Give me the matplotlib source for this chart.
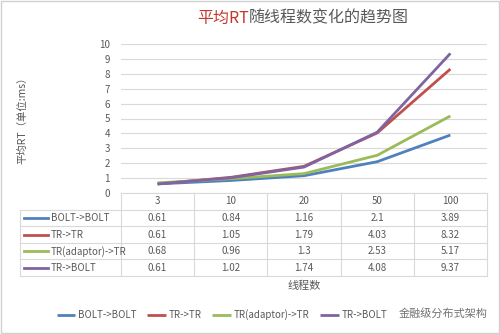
import matplotlib.pyplot as plt
from matplotlib.patches import Rectangle

plt.rcParams['font.family'] = ['Noto Sans CJK SC', 'DejaVu Sans']

threads = ['3', '10', '20', '50', '100']
series = ['BOLT->BOLT', 'TR->TR', 'TR(adaptor)->TR', 'TR->BOLT']
bolt_bolt = [0.61, 0.84, 1.16, 2.1, 3.89]
tr_tr = [0.61, 1.05, 1.79, 4.03, 8.32]
tr_adaptor_tr = [0.68, 0.96, 1.3, 2.53, 5.17]
tr_bolt = [0.61, 1.02, 1.74, 4.08, 9.37]
values = [bolt_bolt, tr_tr, tr_adaptor_tr, tr_bolt]
cell_text = [['0.61', '0.84', '1.16', '2.1', '3.89'],
             ['0.61', '1.05', '1.79', '4.03', '8.32'],
             ['0.68', '0.96', '1.3', '2.53', '5.17'],
             ['0.61', '1.02', '1.74', '4.08', '9.37']]

colors = ['#4F81BD', '#C0504D', '#9BBB59', '#8064A2']
txt = '#595959'
grid = '#D9D9D9'

W, H = 500, 334
fig = plt.figure(figsize=(5, 3.34), dpi=100)
fig.patches.append(Rectangle((0.002, 0.003), 0.996, 0.994, transform=fig.transFigure,
                             fill=False, edgecolor='#D0D0D0', lw=1))

# plot area
x0, x1 = 121, 487
ytop, ybot = 44, 193
ax = fig.add_axes([x0 / W, (H - ybot) / H, (x1 - x0) / W, (ybot - ytop) / H])
xs = range(len(threads))
lines = []
for name, vals, c in zip(series, values, colors):
    ln, = ax.plot(xs, vals, color=c, lw=2, label=name, solid_capstyle='butt')
    lines.append(ln)
ax.set_xlim(-0.5, 4.5)
ax.set_ylim(0, 10)
ax.set_yticks(range(0, 11))
ax.set_xticks([])
ax.tick_params(axis='y', length=0, labelsize=7, labelcolor=txt, pad=8)
ax.grid(axis='y', color=grid, lw=0.8)
ax.set_axisbelow(True)
for s in ax.spines.values():
    s.set_visible(False)

# data table below the plot
row_h = 16.6
lab_w = (x0 - 20) / ((x1 - x0) / 5)
tax = fig.add_axes([20 / W, (H - ybot - 5 * row_h) / H, (x1 - 20) / W, 5 * row_h / H])
tax.set_xlim(-0.5 - lab_w, 4.5)
tax.set_ylim(5, 0)
tax.axis('off')
lk = dict(color=grid, lw=0.8, clip_on=False)
tax.plot([-0.5, 4.5], [0, 0], **lk)
for r in range(1, 6):
    tax.plot([-0.5 - lab_w, 4.5], [r, r], **lk)
for c in range(6):
    tax.plot([c - 0.5, c - 0.5], [0, 5], **lk)
tax.plot([-0.5 - lab_w] * 2, [1, 5], **lk)
for j, t in enumerate(threads):
    tax.text(j, 0.5, t, ha='center', va='center', fontsize=7, color=txt)
for i, (name, row) in enumerate(zip(series, cell_text)):
    yc = i + 1.5
    tax.plot([-0.5 - lab_w + 0.05, -0.5 - lab_w + 0.38], [yc, yc], color=colors[i], lw=2)
    tax.text(-0.5 - lab_w + 0.42, yc, name, ha='left', va='center', fontsize=7, color=txt)
    for j, v in enumerate(row):
        tax.text(j, yc, v, ha='center', va='center', fontsize=7, color=txt)

# titles
fig.text(0.497, (H - 18) / H, '平均RT', color='#C0392B', fontsize=11.5, ha='right', va='center')
fig.text(0.497, (H - 18) / H, '随线程数变化的趋势图', color=txt, fontsize=11.5, ha='left', va='center')
fig.text(22 / W, (H - 118) / H, '平均RT（单位:ms）', rotation=90, fontsize=7.5, color=txt,
         ha='center', va='center')
fig.text(304 / W, (H - 286) / H, '线程数', fontsize=8, color=txt, ha='center', va='center')

fig.legend(handles=lines, loc='center', bbox_to_anchor=(222 / W, (H - 315) / H), ncol=4,
           frameon=False, fontsize=7, labelcolor=txt, handlelength=1.9, columnspacing=1.1,
           handletextpad=0.3)
fig.text(488 / W, (H - 313) / H, '金融级分布式架构', fontsize=8, color='#444444', alpha=0.75,
         ha='right', va='center')

fig.savefig('out.png', dpi=100)
